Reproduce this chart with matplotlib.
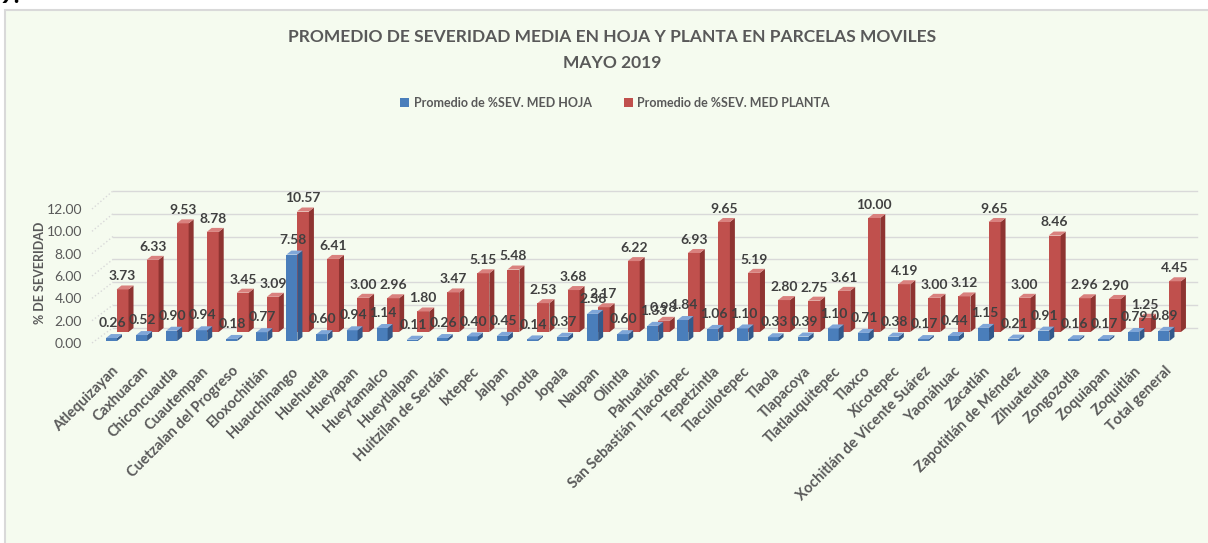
import numpy as np
import matplotlib
matplotlib.use('Agg')
import matplotlib.pyplot as plt
from matplotlib.patches import Rectangle, Polygon, Patch

plt.rcParams['font.family'] = ['Lato', 'DejaVu Sans']

municipios = ['Atlequizayan', 'Caxhuacan', 'Chiconcuautla', 'Cuautempan',
              'Cuetzalan del Progreso', 'Eloxochitlán', 'Huauchinango', 'Huehuetla',
              'Hueyapan', 'Hueytamalco', 'Hueytlalpan', 'Huitzilan de Serdán',
              'Ixtepec', 'Jalpan', 'Jonotla', 'Jopala', 'Naupan', 'Olintla',
              'Pahuatlán', 'San Sebastián Tlacotepec', 'Tepetzintla', 'Tlacuilotepec',
              'Tlaola', 'Tlapacoya', 'Tlatlauquitepec', 'Tlaxco', 'Xicotepec',
              'Xochitlán de Vicente Suárez', 'Yaonáhuac', 'Zacatlán',
              'Zapotitlán de Méndez', 'Zihuateutla', 'Zongozotla', 'Zoquiapan',
              'Zoquitlán', 'Total general']

hoja = [0.26, 0.52, 0.90, 0.94, 0.18, 0.77, 7.58, 0.60, 0.94, 1.14, 0.11, 0.26,
        0.40, 0.45, 0.14, 0.37, 2.38, 0.60, 1.33, 1.84, 1.06, 1.10, 0.33, 0.39,
        1.10, 0.71, 0.38, 0.17, 0.44, 1.15, 0.21, 0.91, 0.16, 0.17, 0.79, 0.89]

planta = [3.73, 6.33, 9.53, 8.78, 3.45, 3.09, 10.57, 6.41, 3.00, 2.96, 1.80, 3.47,
          5.15, 5.48, 2.53, 3.68, 2.17, 6.22, 0.98, 6.93, 9.65, 5.19, 2.80, 2.75,
          3.61, 10.00, 4.19, 3.00, 3.12, 9.65, 3.00, 8.46, 2.96, 2.90, 1.25, 4.45]

yticks = [0, 2, 4, 6, 8, 10, 12]

W, H = 1208, 543
STEP = 30.07   # px por categoria
UNIT = 11.4    # px por unidad
X0, Y0 = 111.5, 341.0  # centro barra 0 / base frontal (px)

fig = plt.figure(figsize=(W / 100, H / 100), dpi=100)
fig.patch.set_facecolor('white')
bg = '#F5FBEF'
fig.patches.append(Rectangle((5 / W, -0.05), 1.1, 1 - 10 / H + 0.05, transform=fig.transFigure,
                             facecolor=bg, edgecolor='#D9D9D9', lw=1.5, zorder=-10))
fig.text(0.0, 1 - 3 / H, '9.', fontsize=17, fontweight='bold', color='black',
         va='baseline', ha='left')

ybot, ytop = -2.0, 17.6
pb = Y0 - ybot * UNIT
pt = Y0 - ytop * UNIT
ax = fig.add_axes([100 / W, 1 - pb / H, 1100 / W, (pb - pt) / H])
ax.set_xlim((100 - X0) / STEP, (1200 - X0) / STEP)
ax.set_ylim(ybot, ytop)
ax.patch.set_alpha(0)
for s in ax.spines.values():
    s.set_visible(False)
ax.set_xticks([])

# etiquetas eje y (plano frontal, un poco mas comprimido)
ypos = [v * (134 / 12) / UNIT - 2 / UNIT for v in yticks]
ax.set_yticks(ypos, labels=['%.2f' % v for v in yticks])
ax.tick_params(axis='y', length=0, pad=13, labelsize=10, labelcolor='#595959')

# pared del fondo
back_dy = (Y0 - 327.7) / UNIT
gx0 = (113 - X0) / STEP
gx1 = (1197 - X0) / STEP
fx = (92 - X0) / STEP
for v, yp in zip(yticks, ypos):
    ax.plot([gx0, gx1], [v + back_dy, v + back_dy], color='#D9D9D9', lw=1, zorder=1)
    ax.plot([fx, gx0], [yp, v + back_dy], color='#D9D9D9', lw=1, ls=':', zorder=1, clip_on=False)


def bar3d(cx, y0, h, w, ddx, ddy, cf, cs, ct, z):
    l, r = cx - w / 2, cx + w / 2
    ax.add_patch(Rectangle((l, y0), w, h, facecolor=cf, edgecolor='none', zorder=z))
    ax.add_patch(Polygon([(r, y0), (r + ddx, y0 + ddy), (r + ddx, y0 + h + ddy), (r, y0 + h)],
                         facecolor=cs, edgecolor='none', zorder=z))
    ax.add_patch(Polygon([(l, y0 + h), (r, y0 + h), (r + ddx, y0 + h + ddy), (l + ddx, y0 + h + ddy)],
                         facecolor=ct, edgecolor='none', zorder=z))


red_dx = 11 / STEP
red_base = (Y0 - 332) / UNIT
ddx = 5 / STEP
ddy = 4 / UNIT
x = np.arange(len(municipios))

for i, v in enumerate(planta):
    bar3d(x[i] + red_dx, red_base, v, 12 / STEP, ddx, ddy, '#C0504D', '#8E3431', '#D9817E', 2)
for i, v in enumerate(hoja):
    bar3d(x[i], 0, v, 11 / STEP, ddx, ddy, '#4A7EBB', '#33598A', '#7FA6D8', 3)

lab = dict(ha='center', va='center', fontsize=10, fontweight='bold', color='#404040', zorder=5)
for i, v in enumerate(planta):
    ax.text(x[i] + red_dx, red_base + v + 1.15, '%.2f' % v, **lab)
for i, v in enumerate(hoja):
    ax.text(x[i] + 0.03, v + 1.3, '%.2f' % v, **lab)

for i, name in enumerate(municipios):
    ax.text(x[i] + 5 / STEP, -28 / UNIT, name, rotation=45, rotation_mode='anchor',
            ha='right', va='center', fontsize=10.5, fontweight='bold', color='#595959',
            clip_on=False)

fig.text(40 / W, 1 - 273 / H, '% DE SEVERIDAD', rotation=90, ha='center', va='center',
         fontsize=9, fontweight='bold', color='#595959')

fig.text(612 / W, 1 - 37 / H, 'PROMEDIO DE SEVERIDAD MEDIA EN HOJA Y PLANTA EN PARCELAS MOVILES',
         ha='center', va='center', fontsize=12.5, fontweight='bold', color='#595959')
fig.text(612 / W, 1 - 63 / H, 'MAYO 2019', ha='center', va='center', fontsize=12.5,
         fontweight='bold', color='#595959')

handles = [Patch(facecolor='#4A7EBB', label='Promedio de %SEV. MED HOJA'),
           Patch(facecolor='#C0504D', label='Promedio de %SEV. MED PLANTA')]
fig.legend(handles=handles, loc='center', bbox_to_anchor=(615 / W, 1 - 103 / H), ncol=2,
           frameon=False, handlelength=0.7, handleheight=0.7, handletextpad=0.35,
           columnspacing=2.6, prop={'size': 9, 'weight': 'bold'}, labelcolor='#595959')

fig.savefig('out.png', dpi=100, facecolor=fig.get_facecolor())
